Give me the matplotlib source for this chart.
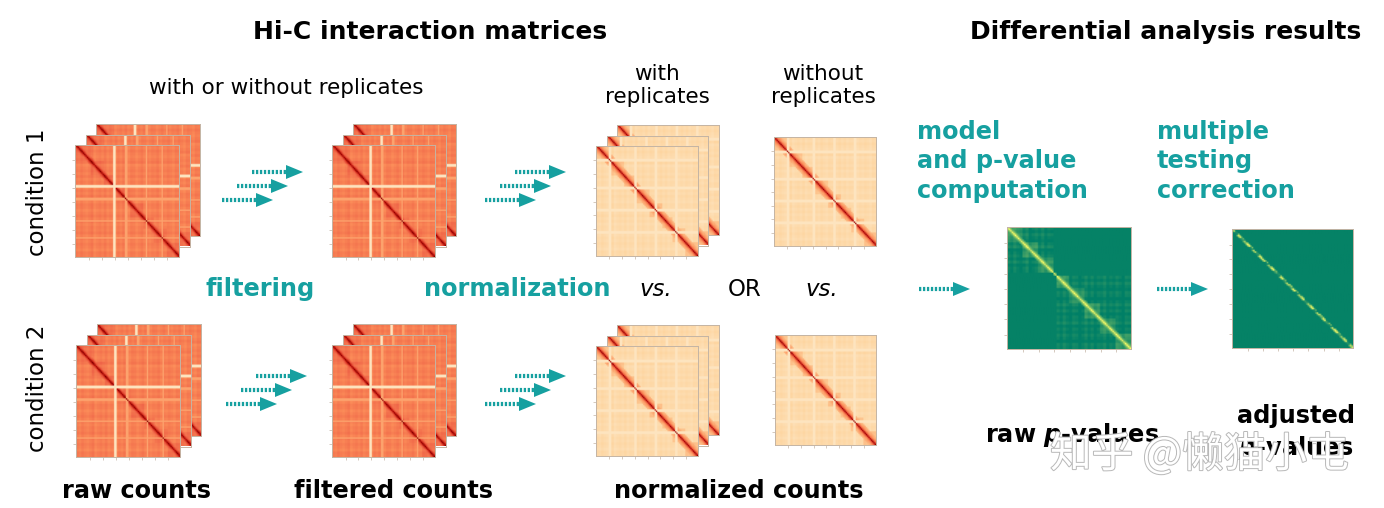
import numpy as np
import matplotlib
matplotlib.use('Agg')
import matplotlib.pyplot as plt
import matplotlib.patheffects as path_effects

W, H = 1384, 508
TEAL = '#16a0a0'
FRAME = '#c4b4a4'

plt.rcParams['font.family'] = ['DejaVu Sans']
plt.rcParams['mathtext.fontset'] = 'custom'
plt.rcParams['mathtext.it'] = 'DejaVu Sans:bold:italic'

# ---- matrix content ----
n_bins = 80
domain_edges = [0, 12, 22, 30, 42, 52, 60, 70, 80]
bin_bias = [0.02, -0.01, 0.03, 0.00, -0.02, 0.01, 0.04, -0.03, 0.00, 0.02,
            -0.01, 0.03, -0.02, 0.01, 0.00, -0.04, 0.02, -0.01, 0.03, 0.00,
            -0.02, 0.02, 0.01, -0.03, 0.00, 0.03, -0.01, 0.02, -0.02, 0.01,
            0.00, 0.03, -0.02, 0.01, -0.01, 0.02, 0.00, -0.03, 0.02, 0.01]

raw_diag = [0.95, 0.76, 0.65, 0.60]
raw_domain = 0.58
raw_background = 0.54
raw_white_bins = [29, 30]
raw_pale_bins = [38, 39, 54, 66]

norm_diag = [0.92, 0.68, 0.54, 0.46, 0.42, 0.39]
norm_domain = 0.33
norm_background = 0.21
norm_pale_bins = [10, 11, 30, 31, 46, 47, 62, 63]

pval_edges = [0, 30, 32, 80]
pval_sub_edges = [0, 10, 20, 30, 40, 50, 60, 70, 80]
pval_diag = [0.95, 0.55, 0.32]
pval_domain = 0.18
pval_background = 0.02
adj_diag = [0.75, 0.10, 0.95, 0.25, 0.68, 1.00, 0.15, 0.78, 0.20, 0.90,
            0.86, 0.08, 0.65, 0.98, 0.33, 0.12, 0.92, 0.26, 0.77, 0.40,
            1.00, 0.10, 0.73, 0.88, 0.22, 0.69, 0.96, 0.15, 0.76, 0.44,
            0.90, 0.27, 0.12, 0.83, 1.00, 0.30, 0.66, 0.86, 0.18, 0.80]
adj_background = 0.02
tick_bins = [10, 20, 30, 40, 50, 60, 70]


def build_matrix(diag, domain, background, edges, bias_scale):
    idx = np.arange(n_bins)
    dist = np.abs(idx[:, None] - idx[None, :])
    dom = np.searchsorted(edges, idx, side='right')
    m = np.where(dom[:, None] == dom[None, :], domain, background).astype(float)
    for d, v in enumerate(diag):
        m[dist == d] = v
    b = np.repeat(bin_bias, 2) * bias_scale
    return m + b[:, None] + b[None, :]


def set_stripes(m, bins, value, keep_diag=False):
    d = np.diag(m).copy()
    for k in bins:
        m[k, :] = value
        m[:, k] = value
    if keep_diag:
        m[np.arange(n_bins), np.arange(n_bins)] = d
    return m


raw = build_matrix(raw_diag, raw_domain, raw_background, domain_edges, 0.7)
raw = set_stripes(raw, raw_pale_bins, 0.44, keep_diag=True)
raw = set_stripes(raw, raw_white_bins, 0.15)

norm = build_matrix(norm_diag, norm_domain, norm_background, domain_edges, 0.5)
norm = set_stripes(norm, norm_pale_bins, 0.15, keep_diag=True)

pval = build_matrix(pval_diag, pval_domain, pval_background, pval_sub_edges, 1.8)
big = np.searchsorted(pval_edges, np.arange(n_bins), side='right')
pval[big[:, None] != big[None, :]] = pval_background

adj = np.full((n_bins, n_bins), adj_background)
speck = np.repeat(adj_diag, 2)
adj[np.arange(n_bins), np.arange(n_bins)] = speck
adj[np.arange(n_bins - 1), np.arange(1, n_bins)] = speck[::-1][1:] * 0.6
adj[np.arange(1, n_bins), np.arange(n_bins - 1)] = speck[1:] * 0.5

fig = plt.figure(figsize=(W / 100, H / 100), dpi=100)
ax = fig.add_axes([0, 0, 1, 1])
ax.set_xlim(0, W)
ax.set_ylim(H, 0)
ax.axis('off')


def matrix_axes(x0, y0, x1, y1, data, cmap):
    m_ax = fig.add_axes([x0 / W, 1 - y1 / H, (x1 - x0) / W, (y1 - y0) / H])
    m_ax.imshow(data, cmap=cmap, vmin=0, vmax=1, aspect='auto',
                interpolation='bilinear')
    m_ax.set_xticks(tick_bins)
    m_ax.set_yticks(tick_bins)
    m_ax.set_xticklabels([])
    m_ax.set_yticklabels([])
    m_ax.tick_params(length=2, width=0.5, color=FRAME)
    for s in m_ax.spines.values():
        s.set_color(FRAME)
        s.set_linewidth(0.7)
    return m_ax


def stack(x0, y0, x1, y1, data, layers=3, step=10.5):
    for k in reversed(range(layers)):
        matrix_axes(x0 + k * step, y0 - k * step, x1 + k * step, y1 - k * step,
                    data, 'OrRd')


def arrow(tip_x, y, length=51, head=17, half=7):
    ax.plot([tip_x - length, tip_x - head + 1], [y, y], color=TEAL, lw=3.0,
            ls=(0, (0.55, 0.4)), solid_capstyle='butt', dash_capstyle='butt')
    ax.fill([tip_x - head, tip_x, tip_x - head], [y - half, y, y + half],
            color=TEAL, lw=0)


def arrow_set(tip_x, y):
    for k in range(3):
        arrow(tip_x - 15 * k, y + 14 * k)


# condition 1
stack(75, 145, 179, 257, raw)
stack(332, 145, 435, 257, raw)
stack(596, 146, 698, 256, norm)
matrix_axes(774, 137, 876, 246, norm, 'OrRd')
# condition 2
stack(76, 345, 180, 457, raw)
stack(332, 345, 435, 457, raw)
stack(596, 346, 698, 456, norm)
matrix_axes(775, 335, 876, 445, norm, 'OrRd')
# differential results
matrix_axes(1007, 227, 1131, 349, pval, 'summer')
matrix_axes(1232, 229, 1353, 348, adj, 'summer')

arrow_set(303, 172)
arrow_set(566, 172)
arrow_set(307, 376)
arrow_set(566, 376)
arrow(970, 289)
arrow(1208, 289)

# titles
ax.text(430, 39, 'Hi-C interaction matrices', ha='center', va='baseline',
        fontsize=18, fontweight='bold')
ax.text(1166, 39, 'Differential analysis results', ha='center', va='baseline',
        fontsize=18, fontweight='bold')

ax.text(286, 94, 'with or without replicates', ha='center', va='baseline',
        fontsize=15.5)
ax.text(657, 103, 'with\nreplicates', ha='center', va='baseline',
        fontsize=15.5, linespacing=1.2)
ax.text(823, 103, 'without\nreplicates', ha='center', va='baseline',
        fontsize=15.5, linespacing=1.2)

ax.text(38, 192, 'condition 1', rotation=90, ha='center', va='center',
        fontsize=16.5)
ax.text(38, 388, 'condition 2', rotation=90, ha='center', va='center',
        fontsize=16.5)

ax.text(260, 296, 'filtering', ha='center', va='baseline', fontsize=17.3,
        fontweight='bold', color=TEAL)
ax.text(517, 296, 'normalization', ha='center', va='baseline', fontsize=17.3,
        fontweight='bold', color=TEAL)
ax.text(656, 296, 'vs.', ha='center', va='baseline', fontsize=16.5,
        style='italic')
ax.text(745, 296, 'OR', ha='center', va='baseline', fontsize=16.5)
ax.text(822, 296, 'vs.', ha='center', va='baseline', fontsize=16.5,
        style='italic')

ax.text(917, 198, 'model\nand p-value\ncomputation', ha='left', va='baseline',
        fontsize=17.3, fontweight='bold', color=TEAL, linespacing=1.3)
ax.text(1157, 198, 'multiple\ntesting\ncorrection', ha='left', va='baseline',
        fontsize=17.3, fontweight='bold', color=TEAL, linespacing=1.3)

ax.text(136, 498, 'raw counts', ha='center', va='baseline', fontsize=17.3,
        fontweight='bold')
ax.text(394, 498, 'filtered counts', ha='center', va='baseline', fontsize=17.3,
        fontweight='bold')
ax.text(739, 498, 'normalized counts', ha='center', va='baseline',
        fontsize=17.3, fontweight='bold')

ax.text(1072, 442, 'raw $p$-values', ha='center', va='baseline',
        fontsize=17.3, fontweight='bold')
ax.text(1296, 455, 'adjusted\n$p$-values', ha='center', va='baseline',
        fontsize=17.3, fontweight='bold', linespacing=1.3)

# watermark
wm = ax.text(1050, 467, '知乎 @懒猫小屯', ha='left', va='baseline', fontsize=30,
             color='white', family=['Noto Sans CJK SC', 'DejaVu Sans'], zorder=10)
wm.set_path_effects([path_effects.Stroke(linewidth=1.4, foreground='#b8b8b8'),
                     path_effects.Normal()])

fig.savefig('out.png', dpi=100)
